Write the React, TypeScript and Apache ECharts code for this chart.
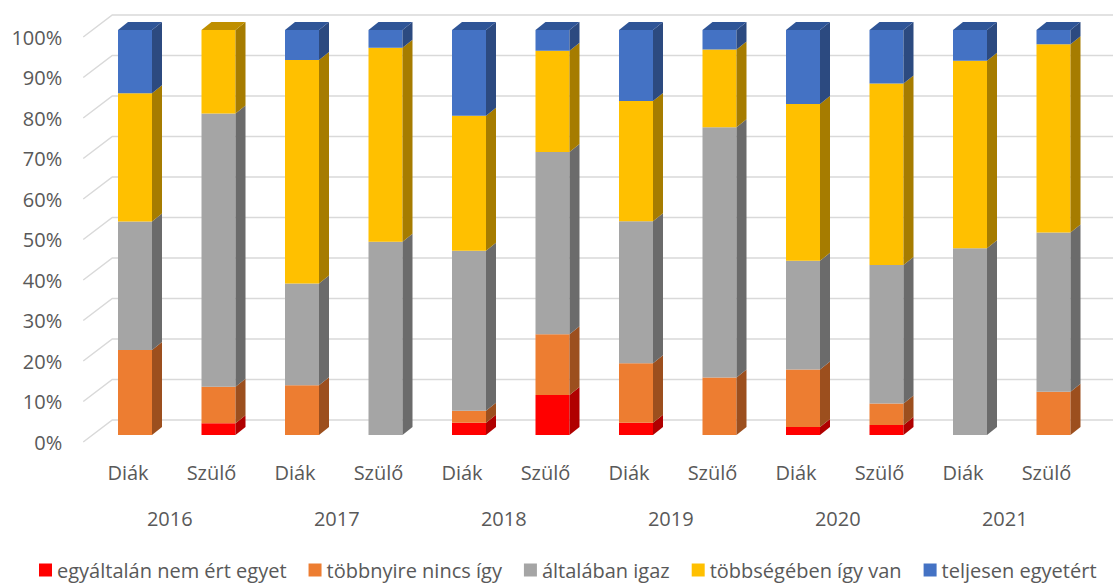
import React, { useEffect, useRef } from "react";
import * as echarts from "echarts";

const categories = ["Diák", "Szülő", "Diák", "Szülő", "Diák", "Szülő", "Diák", "Szülő", "Diák", "Szülő", "Diák", "Szülő"];
const years = ["2016", "2017", "2018", "2019", "2020", "2021"];
const yTicks = [0, 10, 20, 30, 40, 50, 60, 70, 80, 90, 100];

const seriesNames = ["egyáltalán nem ért egyet", "többnyire nincs így", "általában igaz", "többségében így van", "teljesen egyetért"];
const redVals = [0, 2.9, 0, 0, 3, 9.9, 3, 0, 2, 2.5, 0, 0];
const orangeVals = [21, 9, 12.3, 0, 3, 15, 14.7, 14.2, 14.2, 5.3, 0, 10.7];
const grayVals = [31.7, 67.5, 25.1, 47.7, 39.5, 45, 35.1, 61.8, 26.8, 34.2, 46.1, 39.3];
const yellowVals = [31.7, 20.6, 55.2, 47.9, 33.3, 25, 29.7, 19.2, 38.7, 44.8, 46.3, 46.5];
const blueVals = [15.6, 0, 7.4, 4.4, 21.2, 5.1, 17.5, 4.8, 18.3, 13.2, 7.6, 3.5];

const frontColors = ["#FF0000", "#ED7D31", "#A5A5A5", "#FFC000", "#4472C4"];
const sideColors = ["#B00000", "#9C4F1E", "#6B6B6B", "#A67C00", "#2C4A80"];
const topColors = ["#C00000", "#B05A22", "#7A7A7A", "#BF8F00", "#2F5597"];

const TEXT = "#595959";
const FONT = "Open Sans";

export default function App() {
  const ref = useRef<HTMLDivElement>(null);
  useEffect(() => {
    if (!ref.current) return;
    const chart = echarts.init(ref.current, undefined, { renderer: "svg" });
    const allVals = [redVals, orangeVals, grayVals, yellowVals, blueVals];
    const cum = categories.map(() => 0);
    const barSeries = allVals.map((vals, s) => {
      const data = vals.map((v, i) => {
        const b = cum[i];
        cum[i] += v;
        return [i, b, b + v];
      });
      return {
        type: "custom",
        name: seriesNames[s],
        xAxisIndex: 0,
        yAxisIndex: 0,
        z: 2,
        itemStyle: { color: frontColors[s] },
        data,
        encode: { x: 0, y: [1, 2] },
        renderItem: (params: any, api: any) => {
          const i = api.value(0);
          const b = api.value(1);
          const t = api.value(2);
          if (t - b <= 0) return { type: "group", children: [] };
          const cx = api.coord([i, 0])[0] + 7;
          const yb = api.coord([i, b])[1];
          const yt = api.coord([i, t])[1];
          const hw = 17, dx = 10, dy = 8;
          const children: any[] = [
            { type: "rect", shape: { x: cx - hw, y: yt, width: hw * 2, height: yb - yt }, style: { fill: frontColors[s] } },
            {
              type: "polygon",
              shape: { points: [[cx + hw, yb], [cx + hw + dx, yb - dy], [cx + hw + dx, yt - dy], [cx + hw, yt]] },
              style: { fill: sideColors[s] },
            },
          ];
          if (t >= 99.5) {
            children.push({
              type: "polygon",
              shape: { points: [[cx - hw, yt], [cx - hw + dx, yt - dy], [cx + hw + dx, yt - dy], [cx + hw, yt]] },
              style: { fill: topColors[s] },
            });
          }
          return { type: "group", children };
        },
      };
    });

    const gridSeries = {
      type: "custom",
      name: "grid",
      xAxisIndex: 0,
      yAxisIndex: 0,
      z: 0,
      silent: true,
      data: yTicks.map((v) => [0, v]),
      encode: { x: 0, y: 1 },
      renderItem: (params: any, api: any) => {
        const y = api.coord([0, api.value(1)])[1];
        const gx = params.coordSys.x;
        return {
          type: "polyline",
          shape: { points: [[gx - 3, y + 7], [gx + 26, y - 15], [api.getWidth(), y - 15]] },
          style: { stroke: "#D9D9D9", lineWidth: 1.5, fill: "none" },
        };
      },
    };

    const labelAxisStyle = { color: TEXT, fontSize: 20, fontFamily: FONT };

    chart.setOption({
      animation: false,
      backgroundColor: "#FFFFFF",
      textStyle: { fontFamily: FONT },
      grid: [
        { left: 86.25, right: 24.75, top: 30, bottom: 151, containLabel: false },
        { left: 86.25, right: 24.75, top: 37.5, bottom: 144, containLabel: false },
      ],
      legend: {
        data: seriesNames,
        left: 39,
        top: 560,
        padding: 0,
        icon: "rect",
        itemWidth: 13,
        itemHeight: 13,
        itemGap: 22,
        textStyle: { color: TEXT, fontSize: 20, fontFamily: FONT },
      },
      xAxis: [
        {
          type: "category",
          gridIndex: 0,
          data: categories,
          position: "bottom",
          axisLine: { show: false },
          axisTick: { show: false },
          axisLabel: { ...labelAxisStyle, margin: 27, interval: 0 },
        },
        {
          type: "category",
          gridIndex: 0,
          data: years,
          position: "bottom",
          offset: 46,
          axisLine: { show: false },
          axisTick: { show: false },
          axisLabel: { ...labelAxisStyle, margin: 27, interval: 0 },
        },
        { type: "value", gridIndex: 1, show: false },
      ],
      yAxis: [
        {
          type: "value",
          gridIndex: 0,
          min: 0,
          max: 100,
          interval: 10,
          axisLine: { show: false },
          axisTick: { show: false },
          splitLine: { show: false },
          axisLabel: { show: false },
        },
        {
          type: "value",
          gridIndex: 1,
          min: 0,
          max: 100,
          interval: 10,
          axisLine: { show: false },
          axisTick: { show: false },
          splitLine: { show: false },
          axisLabel: { ...labelAxisStyle, margin: 24, formatter: "{value}%" },
        },
      ],
      series: [gridSeries, ...barSeries],
    });
    return () => chart.dispose();
  }, []);
  return <div ref={ref} style={{ position: "absolute", left: 0, top: 0, width: 1113, height: 586 }} />;
}
